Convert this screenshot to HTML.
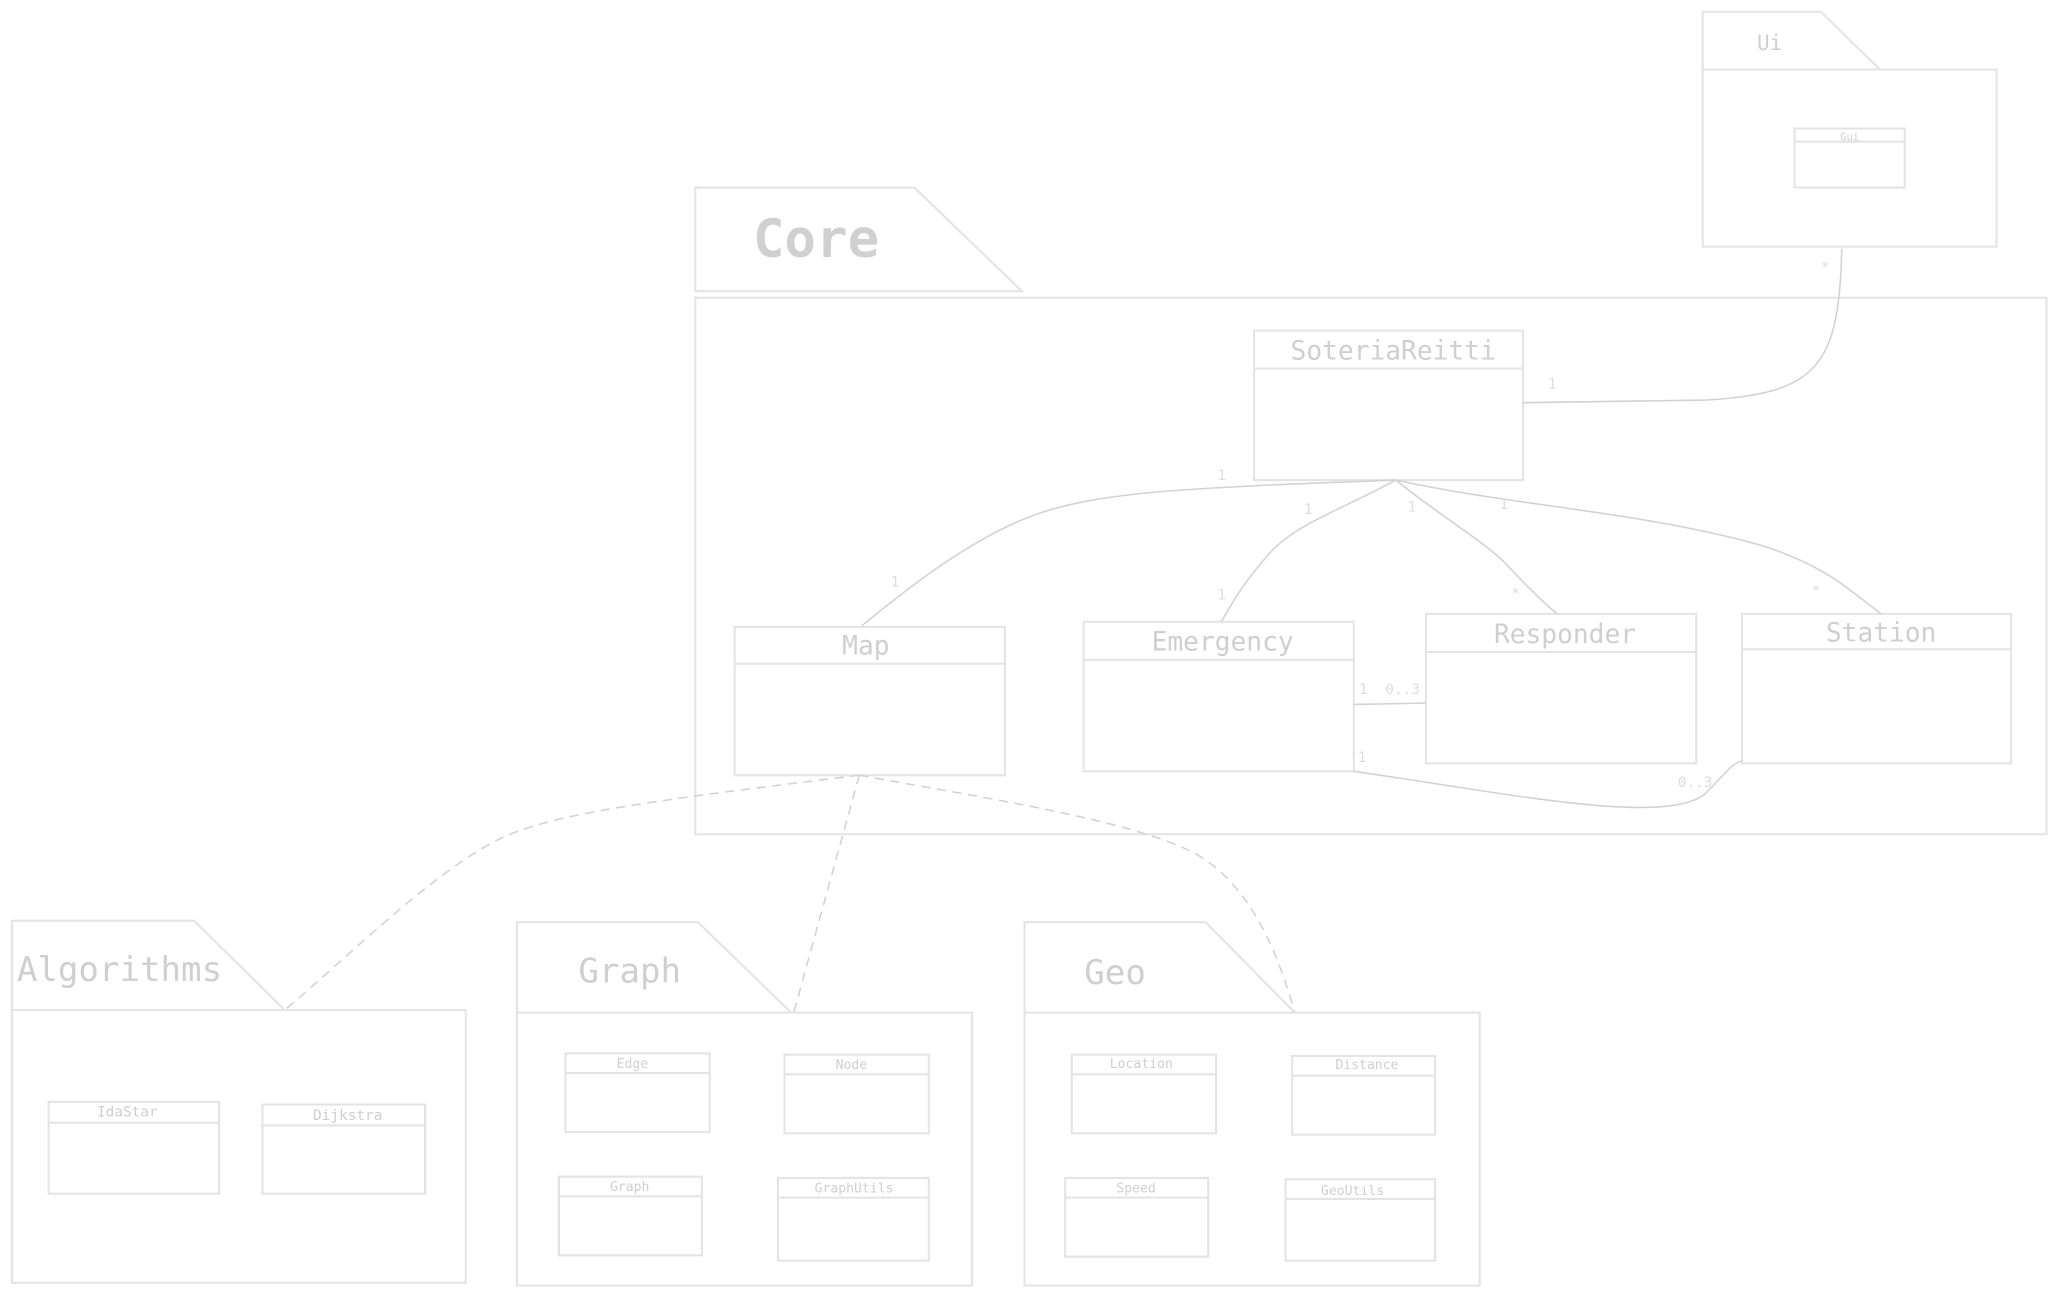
<!DOCTYPE html>
<html><head><meta charset="utf-8"><style>
html,body{margin:0;padding:0;background:#fff;}
svg{display:block}
text{font-family:"DejaVu Sans Mono","Liberation Mono",monospace;fill:#cfcfcf}
.b{fill:none;stroke:#e4e4e4;stroke-width:1.6}
.l{fill:none;stroke:#d2d2d2;stroke-width:1.2}
.d{fill:none;stroke:#d2d2d2;stroke-width:1.2;stroke-dasharray:7 5}
.m{font-size:11px;fill:#dcdcdc}
</style></head><body>
<svg width="2057" height="1296" viewBox="0 0 1568 988" xmlns="http://www.w3.org/2000/svg">
<!-- Ui -->
<path class="b" d="M1298,53 L1298,9 L1388,9 L1433,53"/>
<rect class="b" x="1298" y="53" width="224" height="135"/>
<text x="1349" y="38" font-size="16" text-anchor="middle">Ui</text>
<rect class="b" x="1368" y="98" width="84" height="45"/><line class="b" x1="1368" y1="108" x2="1452" y2="108"/>
<text x="1410" y="107" font-size="8" text-anchor="middle">Gui</text>
<!-- Core -->
<path class="b" d="M530,222 L530,143 L697,143 L779,222 Z"/>
<rect class="b" x="530" y="227" width="1030" height="409"/>
<text x="622" y="196" font-size="40" font-weight="bold" text-anchor="middle" style="fill:#d0d0d0">Core</text>
<rect class="b" x="956" y="252" width="205" height="114"/><line class="b" x1="956" y1="281" x2="1161" y2="281"/>
<text x="1062" y="274" font-size="20" text-anchor="middle">SoteriaReitti</text>
<rect class="b" x="560" y="478" width="206" height="113"/><line class="b" x1="560" y1="506" x2="766" y2="506"/>
<text x="660" y="499" font-size="20" text-anchor="middle">Map</text>
<rect class="b" x="826" y="474" width="206" height="114"/><line class="b" x1="826" y1="503" x2="1032" y2="503"/>
<text x="932" y="496" font-size="20" text-anchor="middle">Emergency</text>
<rect class="b" x="1087" y="468" width="206" height="114"/><line class="b" x1="1087" y1="497" x2="1293" y2="497"/>
<text x="1193" y="490" font-size="20" text-anchor="middle">Responder</text>
<rect class="b" x="1328" y="468" width="205" height="114"/><line class="b" x1="1328" y1="495" x2="1533" y2="495"/>
<text x="1434" y="489" font-size="20" text-anchor="middle">Station</text>
<!-- connectors -->
<path class="l" d="M1064,366 C900,372 840,375 790,392 C740,410 690,450 657,477"/>
<path class="l" d="M1064,366 C1020,390 985,400 965,425 C945,448 938,462 931,474"/>
<path class="l" d="M1064,366 C1100,395 1135,415 1150,432 C1165,448 1175,458 1187,468"/>
<path class="l" d="M1064,366 C1150,385 1250,390 1340,415 C1390,430 1410,450 1434,468"/>
<path class="l" d="M1161,307 L1300,305 C1385,300 1402,280 1404,190"/>
<path class="l" d="M1032,537 L1087,536"/>
<path class="l" d="M1032,588 C1150,605 1270,630 1300,605 C1315,590 1320,582 1328,580"/>
<path class="d" d="M655,591 C500,610 420,620 380,640 C330,665 270,725 217,770"/>
<path class="d" d="M655,591 L605,772"/>
<path class="d" d="M655,591 C760,610 860,625 910,650 C955,675 975,730 987,772"/>
<text class="m" x="928" y="366">1</text><text class="m" x="1180" y="296">1</text>
<text class="m" x="994" y="392">1</text><text class="m" x="1073" y="390">1</text><text class="m" x="1143" y="388">1</text>
<text class="m" x="679" y="447">1</text><text class="m" x="928" y="457">1</text>
<text class="m" x="1152" y="456">*</text><text class="m" x="1381" y="454">*</text><text class="m" x="1388" y="207">*</text>
<text class="m" x="1036" y="529">1</text><text class="m" x="1056" y="529">0..3</text>
<text class="m" x="1035" y="581">1</text><text class="m" x="1279" y="600">0..3</text>
<!-- Algorithms -->
<path class="b" d="M9,770 L9,702 L148,702 L217,770"/>
<rect class="b" x="9" y="770" width="346" height="208"/>
<text x="91" y="748" font-size="26" text-anchor="middle">Algorithms</text>
<rect class="b" x="37" y="840" width="130" height="70"/><line class="b" x1="37" y1="856" x2="167" y2="856"/>
<text x="97" y="851" font-size="11" text-anchor="middle">IdaStar</text>
<rect class="b" x="200" y="842" width="124" height="68"/><line class="b" x1="200" y1="858" x2="324" y2="858"/>
<text x="265" y="854" font-size="11" text-anchor="middle">Dijkstra</text>
<!-- Graph -->
<path class="b" d="M394,772 L394,703 L532,703 L603,772"/>
<rect class="b" x="394" y="772" width="347" height="208"/>
<text x="480" y="749" font-size="26" text-anchor="middle">Graph</text>
<rect class="b" x="431" y="803" width="110" height="60"/><line class="b" x1="431" y1="818" x2="541" y2="818"/>
<text x="482" y="814" font-size="10" text-anchor="middle">Edge</text>
<rect class="b" x="598" y="804" width="110" height="60"/><line class="b" x1="598" y1="819" x2="708" y2="819"/>
<text x="649" y="815" font-size="10" text-anchor="middle">Node</text>
<rect class="b" x="426" y="897" width="109" height="60"/><line class="b" x1="426" y1="912" x2="535" y2="912"/>
<text x="480" y="908" font-size="10" text-anchor="middle">Graph</text>
<rect class="b" x="593" y="898" width="115" height="63"/><line class="b" x1="593" y1="913" x2="708" y2="913"/>
<text x="651" y="909" font-size="10" text-anchor="middle">GraphUtils</text>
<!-- Geo -->
<path class="b" d="M781,772 L781,703 L919,703 L987,772"/>
<rect class="b" x="781" y="772" width="347" height="208"/>
<text x="850" y="750" font-size="26" text-anchor="middle">Geo</text>
<rect class="b" x="817" y="804" width="110" height="60"/><line class="b" x1="817" y1="819" x2="927" y2="819"/>
<text x="870" y="814" font-size="10" text-anchor="middle">Location</text>
<rect class="b" x="985" y="805" width="109" height="60"/><line class="b" x1="985" y1="820" x2="1094" y2="820"/>
<text x="1042" y="815" font-size="10" text-anchor="middle">Distance</text>
<rect class="b" x="812" y="898" width="109" height="60"/><line class="b" x1="812" y1="913" x2="921" y2="913"/>
<text x="866" y="909" font-size="10" text-anchor="middle">Speed</text>
<rect class="b" x="980" y="899" width="114" height="62"/><line class="b" x1="980" y1="914" x2="1094" y2="914"/>
<text x="1031" y="911" font-size="10" text-anchor="middle">GeoUtils</text>
</svg>
</body></html>
